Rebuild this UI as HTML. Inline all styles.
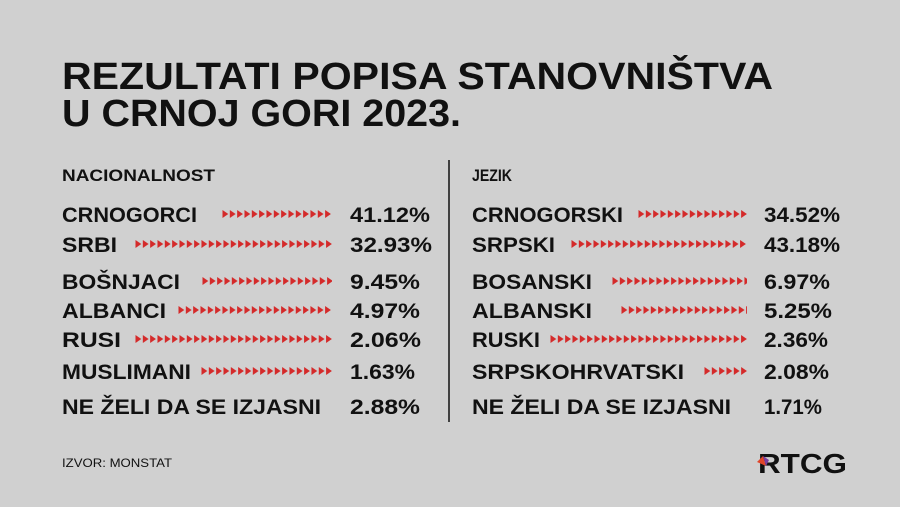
<!DOCTYPE html>
<html><head><meta charset="utf-8"><style>
html,body{margin:0;padding:0;background:#d0d0d0;}
svg{display:block}
text{font-family:"Liberation Sans",sans-serif;font-weight:bold;fill:#111;}
</style></head><body>
<svg width="900" height="507" viewBox="0 0 900 507" xmlns="http://www.w3.org/2000/svg">
<defs>
<pattern id="ar" x="0" y="0" width="7.33" height="10" patternUnits="userSpaceOnUse">
<polygon points="0.5,1 6.3,5 0.5,9" fill="#d42a2a"/>
</pattern>
</defs>
<rect width="900" height="507" fill="#d0d0d0"/>
<text x="62" y="89" font-size="38" textLength="711" lengthAdjust="spacingAndGlyphs">REZULTATI POPISA STANOVNIŠTVA</text>
<text x="62" y="126" font-size="38" textLength="399" lengthAdjust="spacingAndGlyphs">U CRNOJ GORI 2023.</text>
<text x="62" y="181" font-size="17" textLength="153" lengthAdjust="spacingAndGlyphs">NACIONALNOST</text>
<text x="472" y="181" font-size="17" textLength="40" lengthAdjust="spacingAndGlyphs">JEZIK</text>
<line x1="449" y1="160" x2="449" y2="422" stroke="#111" stroke-width="1.5"/>
<g font-size="21">
<text x="62" y="222" textLength="135" lengthAdjust="spacingAndGlyphs">CRNOGORCI</text>
<text x="62" y="252" textLength="55" lengthAdjust="spacingAndGlyphs">SRBI</text>
<text x="62" y="289" textLength="118" lengthAdjust="spacingAndGlyphs">BOŠNJACI</text>
<text x="62" y="318" textLength="104" lengthAdjust="spacingAndGlyphs">ALBANCI</text>
<text x="62" y="347" textLength="59" lengthAdjust="spacingAndGlyphs">RUSI</text>
<text x="62" y="379" textLength="129" lengthAdjust="spacingAndGlyphs">MUSLIMANI</text>
<text x="62" y="414" textLength="259" lengthAdjust="spacingAndGlyphs">NE ŽELI DA SE IZJASNI</text>
<text x="350" y="222" textLength="80" lengthAdjust="spacingAndGlyphs">41.12%</text>
<text x="350" y="252" textLength="82" lengthAdjust="spacingAndGlyphs">32.93%</text>
<text x="350" y="289" textLength="70" lengthAdjust="spacingAndGlyphs">9.45%</text>
<text x="350" y="318" textLength="70" lengthAdjust="spacingAndGlyphs">4.97%</text>
<text x="350" y="347" textLength="71" lengthAdjust="spacingAndGlyphs">2.06%</text>
<text x="350" y="379" textLength="65" lengthAdjust="spacingAndGlyphs">1.63%</text>
<text x="350" y="414" textLength="70" lengthAdjust="spacingAndGlyphs">2.88%</text>
<text x="472" y="222" textLength="151" lengthAdjust="spacingAndGlyphs">CRNOGORSKI</text>
<text x="472" y="252" textLength="83" lengthAdjust="spacingAndGlyphs">SRPSKI</text>
<text x="472" y="289" textLength="120" lengthAdjust="spacingAndGlyphs">BOSANSKI</text>
<text x="472" y="318" textLength="120" lengthAdjust="spacingAndGlyphs">ALBANSKI</text>
<text x="472" y="347" textLength="68" lengthAdjust="spacingAndGlyphs">RUSKI</text>
<text x="472" y="379" textLength="212" lengthAdjust="spacingAndGlyphs">SRPSKOHRVATSKI</text>
<text x="472" y="414" textLength="259" lengthAdjust="spacingAndGlyphs">NE ŽELI DA SE IZJASNI</text>
<text x="764" y="222" textLength="76" lengthAdjust="spacingAndGlyphs">34.52%</text>
<text x="764" y="252" textLength="76" lengthAdjust="spacingAndGlyphs">43.18%</text>
<text x="764" y="289" textLength="66" lengthAdjust="spacingAndGlyphs">6.97%</text>
<text x="764" y="318" textLength="68" lengthAdjust="spacingAndGlyphs">5.25%</text>
<text x="764" y="347" textLength="64" lengthAdjust="spacingAndGlyphs">2.36%</text>
<text x="764" y="379" textLength="65" lengthAdjust="spacingAndGlyphs">2.08%</text>
<text x="764" y="414" textLength="58" lengthAdjust="spacingAndGlyphs">1.71%</text>
</g>
<g fill="url(#ar)">
<rect transform="translate(222,209)" width="110" height="10"/>
<rect transform="translate(135,239)" width="197" height="10"/>
<rect transform="translate(202,276)" width="130" height="10"/>
<rect transform="translate(178,305)" width="154" height="10"/>
<rect transform="translate(135,334)" width="197" height="10"/>
<rect transform="translate(201,366)" width="131" height="10"/>
<rect transform="translate(638,209)" width="109" height="10"/>
<rect transform="translate(571,239)" width="176" height="10"/>
<rect transform="translate(612,276)" width="135" height="10"/>
<rect transform="translate(621,305)" width="126" height="10"/>
<rect transform="translate(550,334)" width="197" height="10"/>
<rect transform="translate(704,366)" width="43" height="10"/>
</g>
<text x="62" y="467" font-size="12" style="font-weight:normal" textLength="110" lengthAdjust="spacingAndGlyphs">IZVOR: MONSTAT</text>
<text x="758" y="473" font-size="28" textLength="89" lengthAdjust="spacingAndGlyphs">RTCG</text>
<polygon points="757,462 763,456 766,466" fill="#e0452a"/>
<polygon points="763,456 769,460 766,466" fill="#7a3fa0"/>
</svg>
</body></html>
